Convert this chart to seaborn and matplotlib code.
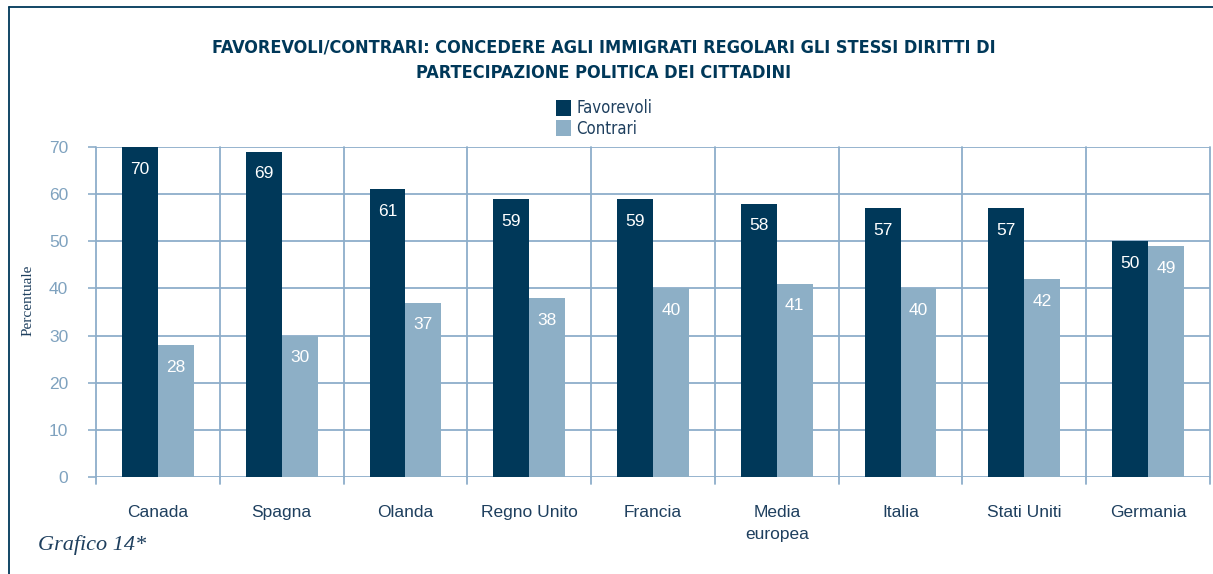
import matplotlib
matplotlib.use("Agg")
import matplotlib.pyplot as plt
from matplotlib.lines import Line2D
from matplotlib.patches import Patch
from matplotlib.font_manager import FontProperties
import seaborn as sns
import pandas as pd

paesi = ["Canada", "Spagna", "Olanda", "Regno Unito", "Francia",
         "Media\neuropea", "Italia", "Stati Uniti", "Germania"]
favorevoli = [70, 69, 61, 59, 59, 58, 57, 57, 50]
contrari = [28, 30, 37, 38, 40, 41, 40, 42, 49]
serie = ["Favorevoli", "Contrari"]
y_ticks = [0, 10, 20, 30, 40, 50, 60, 70]

DARK = "#003859"
LIGHT = "#8DAFC6"
GRID = "#8EAECA"
TICK = "#7FA2BF"
TEXT = "#1E3F5E"

df = pd.DataFrame({
    "paese": paesi * 2,
    "serie": [serie[0]] * len(paesi) + [serie[1]] * len(paesi),
    "valore": favorevoli + contrari,
})

sns.set_theme(style="white")
plt.rcParams["font.family"] = ["Liberation Sans", "DejaVu Sans"]

fig = plt.figure(figsize=(12.13, 5.74), dpi=100)
ax = fig.add_axes([96 / 1213, 1 - 477 / 574, (1210 - 96) / 1213, (477 - 147) / 574])

sns.barplot(data=df, x="paese", y="valore", hue="serie", order=paesi,
            hue_order=serie, palette=[DARK, LIGHT], width=0.58,
            saturation=1, legend=False, ax=ax, zorder=3,
            linewidth=0, edgecolor="none")

ax.set_xlim(-0.5, len(paesi) - 0.5)
ax.set_ylim(0, 70)
ax.set_yticks(y_ticks)
ax.set_yticklabels([str(t) for t in y_ticks], color=TICK, fontsize=12.5)
ax.set_xticks(range(len(paesi)))
ax.set_xticklabels(paesi, color=TEXT, fontsize=12.5, linespacing=1.6)
ax.tick_params(axis="x", length=0, pad=20)
ax.tick_params(axis="y", length=6, width=1.2, color=GRID, pad=14, left=True)
ax.set_xlabel("")
ax.set_ylabel("")

# grid: horizontal at each tick, vertical at category boundaries
for t in y_ticks:
    ax.axhline(t, color=GRID, lw=1.3, zorder=1)
for b in range(len(paesi) + 1):
    x = b - 0.5
    ax.plot([x, x], [0, 70], color=GRID, lw=1.3, zorder=1, clip_on=False)
    ax.plot([x, x], [0, -1.5], color=GRID, lw=1.3, zorder=1, clip_on=False)

for s in ax.spines.values():
    s.set_visible(False)

# value labels inside the top of each bar
for container in ax.containers:
    for bar in container:
        h = bar.get_height()
        ax.annotate(f"{h:.0f}", (bar.get_x() + bar.get_width() / 2, h),
                    xytext=(0, -16), textcoords="offset points",
                    ha="center", va="center", color="white",
                    fontsize=12.5, zorder=4)

title_font = dict(fontsize=13, fontweight="bold", fontstretch="condensed",
                  color=DARK, family=["DejaVu Sans"])
fig.text(604 / 1213, 1 - 47 / 574,
         "FAVOREVOLI/CONTRARI: CONCEDERE AGLI IMMIGRATI REGOLARI GLI STESSI DIRITTI DI",
         ha="center", va="center", **title_font)
fig.text(604 / 1213, 1 - 73 / 574,
         "PARTECIPAZIONE POLITICA DEI CITTADINI",
         ha="center", va="center", **title_font)

handles = [Patch(facecolor=DARK, edgecolor="none"),
           Patch(facecolor=LIGHT, edgecolor="none")]
fig.legend(handles, serie, loc="upper left",
           bbox_to_anchor=(548 / 1213, 1 - 91 / 574), frameon=False,
           labelcolor=TEXT, handlelength=0.9, handleheight=1.1,
           handletextpad=0.3, labelspacing=0.15, borderpad=0,
           prop=FontProperties(family="DejaVu Sans", stretch="condensed", size=12))

fig.text(28 / 1213, 1 - 300 / 574, "Percentuale", rotation=90,
         ha="center", va="center", fontsize=11, color=TEXT,
         family=["Liberation Serif", "DejaVu Serif"])
fig.text(38 / 1213, 1 - 545 / 574, "Grafico 14*", ha="left", va="center",
         fontsize=16, style="italic", color=TEXT,
         family=["Liberation Serif", "DejaVu Serif"])

# page frame
fig.add_artist(Line2D([9 / 1213, 9 / 1213], [0, 1 - 7 / 574],
                      transform=fig.transFigure, color=DARK, lw=1.3))
fig.add_artist(Line2D([9 / 1213, 1], [1 - 7 / 574, 1 - 7 / 574],
                      transform=fig.transFigure, color=DARK, lw=1.3))

fig.savefig("out.png", dpi=100)
